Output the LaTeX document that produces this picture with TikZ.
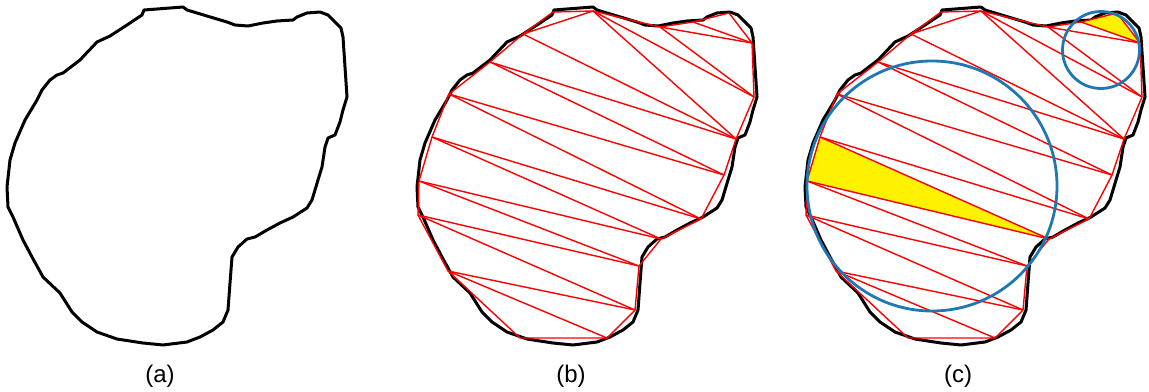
\documentclass[tikz,border=0pt]{standalone}
\usepackage{fontspec}
\setmainfont{Liberation Sans}
\definecolor{circblue}{RGB}{31,119,180}

\begin{document}
\begin{tikzpicture}[x=0.5pt, y=-0.5pt]
    % Define styles
    \tikzstyle{outline} = [draw, black, line width=1.5pt, line join=round]
    \tikzstyle{edge} = [draw, red, line width=0.7pt, line join=round]
    \tikzstyle{hit} = [fill=yellow]
    \tikzstyle{circ} = [draw, circblue, line width=1.4pt]
    \tikzstyle{caption} = [font=\fontsize{12}{14}\selectfont]

    \useasboundingbox (0,0) rectangle (1149,391);

    % Outline of the shape in all three panels
    \foreach \p/\dx in {a/0, b/410, c/798} {
        \begin{scope}[xshift=\dx*0.5pt]
            \draw[outline] (144,10) -- (183,7) -- (187,10) -- (207,16) -- (227,22) -- (235,25)
                -- (248,26) -- (263,23) -- (277,21) -- (293,20) -- (297,17) -- (307,13) -- (320,12)
                -- (328,15) -- (341,28) -- (343,37) -- (345,67) -- (347,97) -- (343,110) -- (340,122)
                -- (335,135) -- (328,138) -- (325,147) -- (322,167) -- (318,180) -- (315,190)
                -- (312,200) -- (307,208) -- (293,217) -- (280,223) -- (267,230) -- (255,237)
                -- (247,239) -- (238,247) -- (232,257) -- (230,283) -- (228,310) -- (223,322)
                -- (213,330) -- (200,337) -- (187,342) -- (163,345) -- (143,343) -- (117,339)
                -- (97,332) -- (82,322) -- (72,312) -- (60,293) -- (43,277) -- (32,257) -- (23,240)
                -- (13,217) -- (8,207) -- (7,187) -- (10,160) -- (15,143) -- (25,120) -- (37,100)
                -- (42,90) -- (50,80) -- (57,75) -- (63,73) -- (80,60) -- (97,42) -- (110,36)
                -- (127,25) -- (142,15) -- cycle;
        \end{scope}
    }

    % Place mesh points for panels (b) and (c)
    \foreach \p/\dx in {b/410, c/798} {
        \begin{scope}[xshift=\dx*0.5pt]
            \foreach \n/\x/\y in {1/143/12, 2/183/11, 3/250/27, 4/283/22, 5/319/13, 6/342/43,
                7/344/97, 8/326/139, 9/314/175, 10/291/219, 11/251/239, 12/229/266, 13/225/310,
                14/197/338, 15/110/338, 16/38/271, 17/8/215, 18/9/181, 19/22/137, 20/39/94,
                21/80/62, 22/113/34}
                \coordinate (\p\n) at (\x,\y);
        \end{scope}
    }
    \coordinate (bigc) at (932,186);
    \coordinate (smallc) at (1101,50);

    % Marked triangles in (c)
    \fill[hit] (c19) -- (c18) -- (c11) -- cycle;
    \fill[hit] (c4) -- (c5) -- (c6) -- cycle;

    % Draw the triangulation
    \foreach \p in {b,c} {
        \draw[edge] (\p1) \foreach \n in {2,...,22} { -- (\p\n) } -- cycle;
        \foreach \s/\t in {22/2, 22/8, 2/8, 2/7, 3/7, 3/6, 4/6, 21/8, 21/9, 20/9, 20/10,
            19/10, 19/11, 18/11, 18/12, 17/12, 17/13, 16/13, 16/14}
            \draw[edge] (\p\s) -- (\p\t);
    }

    % Circles round the marked triangles
    \draw[circ] (bigc) circle[radius=125];
    \draw[circ] (smallc) circle[radius=38.5];

    % Captions
    \node[caption] (capa) at (160,376) {(a)};
    \node[caption] (capb) at (571,376) {(b)};
    \node[caption] (capc) at (958,376) {(c)};
\end{tikzpicture}
\end{document}
